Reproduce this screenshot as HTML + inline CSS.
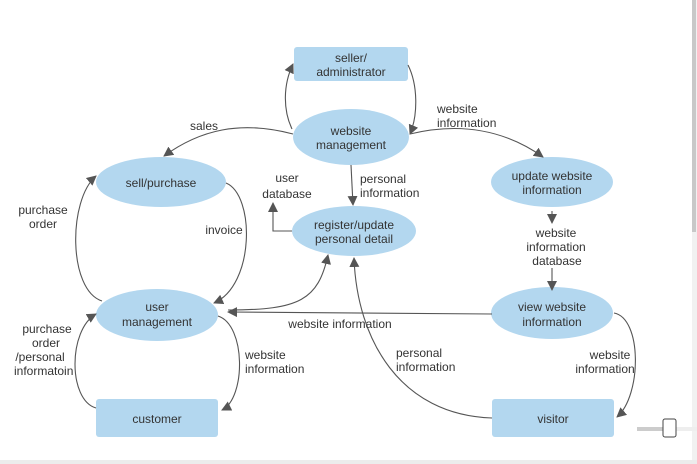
<!DOCTYPE html>
<html><head><meta charset="utf-8"><style>
html,body{margin:0;padding:0;background:#fff;}
svg{display:block;}
text{font-family:"Liberation Sans",Arial,sans-serif;font-size:12px;fill:#333;}
.n{text-anchor:middle;}
.e{stroke:#555;stroke-width:1.1;fill:none;}
</style></head><body>
<svg width="697" height="464" viewBox="0 0 697 464" xmlns="http://www.w3.org/2000/svg">
<defs><marker id="a" viewBox="0 0 10 10" refX="9" refY="5" markerWidth="10" markerHeight="10" orient="auto" markerUnits="userSpaceOnUse"><path d="M0,0 L10,5 L0,10z" fill="#555"/></marker></defs>
<rect x="692" y="0" width="5" height="464" fill="#f1f1f1"/>
<rect x="692" y="0" width="4" height="232" fill="#c8c8c8"/>
<rect x="0" y="460" width="697" height="4" fill="#ececec"/>
<rect x="637" y="427" width="60" height="4" fill="#eee"/>
<rect x="637" y="427" width="28" height="4" fill="#ccc"/>
<rect x="663" y="419" width="13" height="18" rx="2" fill="#fff" stroke="#444"/>

<rect x="294" y="47" width="114" height="34" rx="3" fill="#b3d7ef"/>
<rect x="96" y="399" width="122" height="38" rx="3" fill="#b3d7ef"/>
<rect x="492" y="399" width="122" height="38" rx="3" fill="#b3d7ef"/>
<ellipse cx="351" cy="137" rx="58" ry="28" fill="#b3d7ef"/>
<ellipse cx="161" cy="182" rx="65" ry="25" fill="#b3d7ef"/>
<ellipse cx="552" cy="182" rx="61" ry="25" fill="#b3d7ef"/>
<ellipse cx="354" cy="231" rx="62" ry="25" fill="#b3d7ef"/>
<ellipse cx="157" cy="315" rx="61" ry="26" fill="#b3d7ef"/>
<ellipse cx="552" cy="313" rx="61" ry="26" fill="#b3d7ef"/>

<path class="e" d="M292,129 C283,110 283,85 293,64" marker-end="url(#a)"/>
<path class="e" d="M408,65 C418,85 418,115 410,134" marker-end="url(#a)"/>
<path class="e" d="M293,134 C240,120 200,130 164,156" marker-end="url(#a)"/>
<path class="e" d="M410,134 C460,122 505,130 543,157" marker-end="url(#a)"/>
<path class="e" d="M351,165 L353,205" marker-end="url(#a)"/>
<path class="e" d="M292,231 L273,231 L273,203" marker-end="url(#a)" stroke="#888"/>
<path class="e" d="M226,183 C255,195 255,285 214,303" marker-end="url(#a)"/>
<path class="e" d="M102,301 C68,290 68,200 96,176" marker-end="url(#a)"/>
<path class="e" d="M228,310 C300,310 318,300 328,255" marker-end="url(#a)"/>
<path class="e" d="M492,314 L228,312" marker-end="url(#a)" stroke="#888"/>
<path class="e" d="M492,418 C400,415 357,340 354,258" marker-end="url(#a)"/>
<path class="e" d="M614,313 C642,318 642,395 617,417" marker-end="url(#a)"/>
<path class="e" d="M218,316 C246,325 246,398 222,410" marker-end="url(#a)"/>
<path class="e" d="M96,408 C68,400 68,330 96,314" marker-end="url(#a)"/>
<path class="e" d="M552,211 L552,223" marker-end="url(#a)"/>
<path class="e" d="M552,268 L552,290" marker-end="url(#a)"/>

<text class="n" x="351" y="62">seller/</text>
<text class="n" x="351" y="76">administrator</text>
<text class="n" x="351" y="135">website</text>
<text class="n" x="351" y="149">management</text>
<text class="n" x="161" y="187">sell/purchase</text>
<text class="n" x="552" y="180">update website</text>
<text class="n" x="552" y="194">information</text>
<text class="n" x="354" y="229">register/update</text>
<text class="n" x="354" y="243">personal detail</text>
<text class="n" x="157" y="311">user</text>
<text class="n" x="157" y="326">management</text>
<text class="n" x="552" y="311">view website</text>
<text class="n" x="552" y="326">information</text>
<text class="n" x="157" y="423">customer</text>
<text class="n" x="553" y="423">visitor</text>

<text class="n" x="204" y="130">sales</text>
<text x="437" y="113">website</text>
<text x="437" y="127">information</text>
<text class="n" x="287" y="182">user</text>
<text class="n" x="287" y="198">database</text>
<text x="360" y="183">personal</text>
<text x="360" y="197">information</text>
<text class="n" x="43" y="214">purchase</text>
<text class="n" x="43" y="228">order</text>
<text class="n" x="224" y="234">invoice</text>
<text class="n" x="556" y="237">website</text>
<text class="n" x="556" y="251">information</text>
<text class="n" x="557" y="265">database</text>
<text class="n" x="340" y="328">website information</text>
<text class="n" x="47" y="333">purchase</text>
<text class="n" x="46" y="347">order</text>
<text class="n" x="40" y="361">/personal</text>
<text x="14" y="375">informatoin</text>
<text x="245" y="359">website</text>
<text x="245" y="373">information</text>
<text x="396" y="357">personal</text>
<text x="396" y="371">information</text>
<text class="n" x="610" y="359">website</text>
<text class="n" x="605" y="373">information</text>
</svg>
</body></html>
